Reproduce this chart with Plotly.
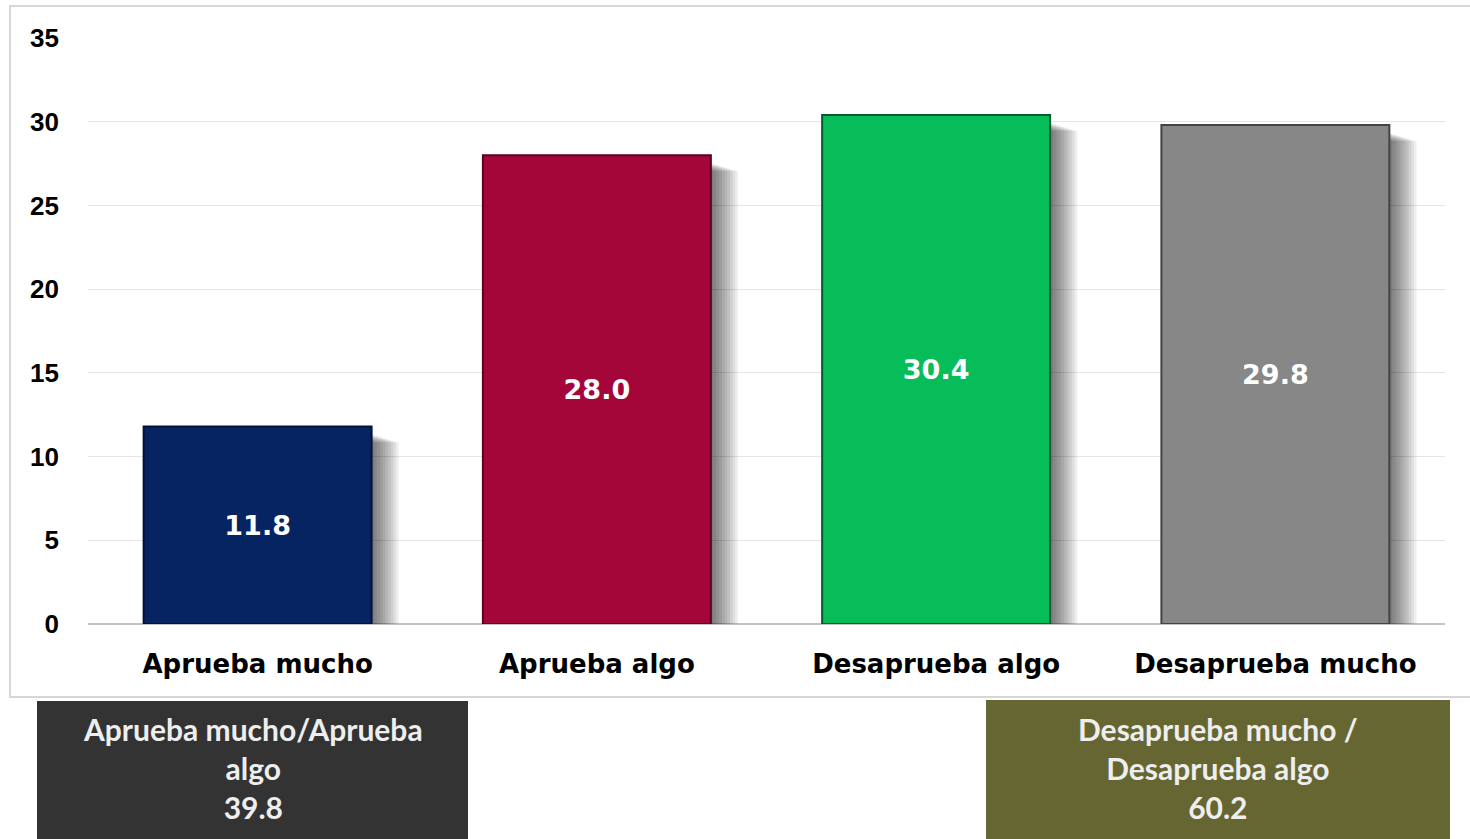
import plotly.graph_objects as go

categories = ["Aprueba mucho", "Aprueba algo", "Desaprueba algo", "Desaprueba mucho"]
values = [11.8, 28.0, 30.4, 29.8]
bar_colors = ["#062462", "#A5063A", "#07BD5A", "#878787"]
edge_colors = ["#021236", "#5c0220", "#035a2a", "#444444"]
y_ticks = [0, 5, 10, 15, 20, 25, 30, 35]
box_texts = ["Aprueba mucho/Aprueba<br>algo<br>39.8", "Desaprueba mucho /<br>Desaprueba algo<br>60.2"]
box_colors = ["#333333", "#666633"]

W, H = 1470, 839
L, R, T, B = 88, 25, 38, 215
PW, PH = W - L - R, H - T - B


def px2x(px):
    return (px - L) / PW


def py2y(py):
    return (H - B - py) / PH


fig = go.Figure()

bw = 0.672
# soft blurred shadow built from layered translucent bars
n_layers = 10
for i in range(n_layers):
    dx = 0.008 * (i + 1)
    drop = 0.05 * (i + 1)
    fig.add_trace(go.Bar(
        x=categories, y=[v - 0.2 - drop for v in values], base=[-0.25] * len(values),
        width=bw, offset=-bw / 2 + dx,
        marker=dict(color="rgba(0,0,0,0.065)", line=dict(width=0)),
        hoverinfo="skip", showlegend=False,
    ))

fig.add_trace(go.Bar(
    x=categories, y=values, width=bw, offset=-bw / 2,
    marker=dict(color=bar_colors, line=dict(color=edge_colors, width=2)),
    text=[f"{v:.1f}" for v in values], textposition="inside",
    insidetextanchor="middle", textangle=0,
    textfont=dict(family="DejaVu Sans", size=27, color="white", weight="bold"),
    showlegend=False,
))

shapes = [
    dict(type="rect", xref="paper", yref="paper",
         x0=px2x(10), x1=px2x(1480), y0=py2y(697), y1=py2y(6),
         line=dict(color="#d6d6d6", width=2), fillcolor="white", layer="below"),
]
box_px = [(37, 468, 701, 845), (986, 1450, 700, 845)]
annotations = []
for (x0, x1, y0, y1), c, t in zip(box_px, box_colors, box_texts):
    shapes.append(dict(type="rect", xref="paper", yref="paper",
                       x0=px2x(x0), x1=px2x(x1), y0=py2y(y1), y1=py2y(y0),
                       line=dict(width=0), fillcolor=c, layer="above"))
    annotations.append(dict(
        xref="paper", yref="paper", x=px2x((x0 + x1) / 2), y=py2y(768),
        text=t, showarrow=False, xanchor="center", yanchor="middle", align="center",
        font=dict(family="Lato", size=30, color="#eeeeee", weight="bold"),
    ))

fig.update_layout(
    width=W, height=H,
    margin=dict(l=L, r=R, t=T, b=B),
    paper_bgcolor="white", plot_bgcolor="rgba(0,0,0,0)",
    barmode="overlay",
    shapes=shapes, annotations=annotations,
    xaxis=dict(
        type="category", showgrid=False, showline=False, ticks="",
        tickfont=dict(family="DejaVu Sans", size=26, color="black", weight="bold"),
        ticklabelstandoff=22,
    ),
    yaxis=dict(
        range=[0, 35], tickvals=y_ticks, showgrid=True, gridcolor="#e6e6e6", gridwidth=1,
        zeroline=True, zerolinecolor="#c4c4c4", zerolinewidth=2,
        tickfont=dict(family="Liberation Sans", size=26, color="black", weight="bold"),
        ticklabelstandoff=28, ticks="",
    ),
)

fig.write_html("out.html", config={"displayModeBar": False},
               post_script="document.body.style.margin='0px';")
